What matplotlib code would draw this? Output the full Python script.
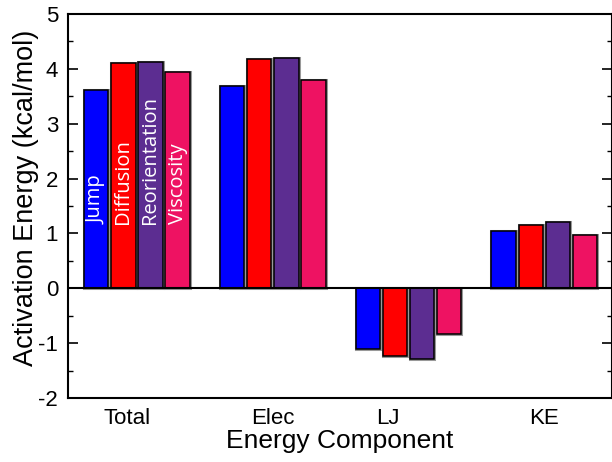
import numpy as np
import matplotlib
matplotlib.use("Agg")
from matplotlib import pyplot as plt
from matplotlib.ticker import MultipleLocator

plt.rcParams["axes.unicode_minus"] = False
plt.rcParams["font.family"] = ["Liberation Sans", "DejaVu Sans"]

# data
components = ["Total", "Elec", "LJ", "KE"]
series = ["Jump", "Diffusion", "Reorientation", "Viscosity"]
jump = [3.62, 3.69, -1.10, 1.04]
diffusion = [4.10, 4.18, -1.23, 1.16]
reorientation = [4.12, 4.19, -1.28, 1.21]
viscosity = [3.94, 3.80, -0.83, 0.97]
colors = ["#0000ff", "#ff0000", "#5c2d91", "#ee1262"]
label_shift = [-0.075, 0.0, -0.155, -0.005]  # category labels sit a bit off-centre

fig = plt.figure(figsize=(6.12, 4.62), dpi=100)
ax = fig.add_axes([0.111, 0.1385, 0.8889, 0.8312])

x = np.arange(len(components))
width = 0.2
for i, (name, vals) in enumerate(zip(series, [jump, diffusion, reorientation, viscosity])):
    xs = x + (i - 1.5) * width
    # grey halo then black edge, like the original export
    ax.bar(xs, vals, width=width * 0.9, color=colors[i], edgecolor="#999999", linewidth=2.2, zorder=2)
    ax.bar(xs, vals, width=width * 0.9, color=colors[i], edgecolor="black", linewidth=1.1, zorder=2)
    # white rotated label inside the Total bar
    ax.text(xs[0], 1.17, name, rotation=90, color="white", ha="center", va="bottom",
            fontsize=14.5, family=["Open Sans", "DejaVu Sans"], zorder=3)

ax.axhline(0, color="black", linewidth=1.5, zorder=3)

ax.set_xlim(-0.508, 3.498)
ax.set_ylim(-2, 5)
ax.yaxis.set_major_locator(MultipleLocator(1))
ax.yaxis.set_minor_locator(MultipleLocator(0.5))
ax.tick_params(axis="y", which="both", direction="in", left=True, right=True, labelsize=16, pad=7)
ax.tick_params(axis="y", which="major", length=7.2, width=1.2)
ax.tick_params(axis="y", which="minor", length=3.6, width=1.0)
ax.set_xticks(x + np.array(label_shift))
ax.set_xticklabels(components)
ax.tick_params(axis="x", length=0, labelsize=16, pad=7)

for s in ax.spines.values():
    s.set_linewidth(1.5)

ax.set_ylabel("Activation Energy (kcal/mol)", fontsize=19.5)
ax.yaxis.set_label_coords(-0.054, 0.521)
ax.set_xlabel("Energy Component", fontsize=19, labelpad=0)

fig.savefig("out.png", dpi=100)
